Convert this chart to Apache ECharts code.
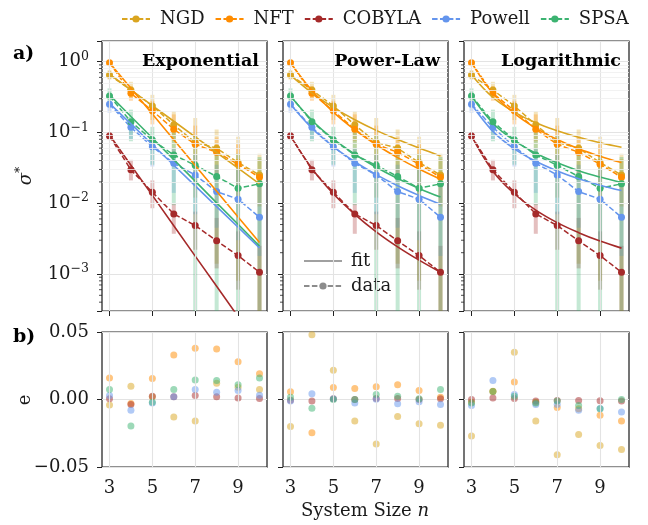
<!DOCTYPE html>
<html>
<head>
<meta charset="utf-8">
<script src="https://cdn.jsdelivr.net/npm/echarts@6/dist/echarts.min.js"></script>
<style>
  html, body { margin: 0; padding: 0; background: #fff; }
  #chart { width: 648px; height: 525px; }
</style>
</head>
<body>
<div id="chart"></div>
<script>
// system sizes
var sizes = [3, 4, 5, 6, 7, 8, 9, 10];
var methods = ['NGD', 'NFT', 'COBYLA', 'Powell', 'SPSA'];
var colors = ['#DAA520', '#FF8C00', '#A52A2A', '#6495ED', '#3CB371'];
var models = ['Exponential', 'Power-Law', 'Logarithmic'];
var xTicks = [3, 5, 7, 9];

// measured sigma* (same in every panel)
var sigmaNGD    = [0.648, 0.398, 0.237, 0.128, 0.072, 0.060, 0.0375, 0.025];
var sigmaNFT    = [0.968, 0.357, 0.203, 0.111, 0.068, 0.0525, 0.0356, 0.0233];
var sigmaCOBYLA = [0.0893, 0.0296, 0.0143, 0.00707, 0.00484, 0.00294, 0.00182, 0.00106];
var sigmaPowell = [0.250, 0.118, 0.063, 0.0367, 0.025, 0.0146, 0.0114, 0.00634];
var sigmaSPSA   = [0.327, 0.142, 0.078, 0.048, 0.0344, 0.0238, 0.0163, 0.0188];

// error bar ranges
var lowNGD     = [0.56, 0.30, 0.15, 0.05, 0.012, 0.0014, 0.0008, 0.0003];
var highNGD    = [0.76, 0.52, 0.34, 0.20, 0.16, 0.11, 0.087, 0.05];
var lowNFT     = [0.88, 0.28, 0.13, 0.075, 0.035, 0.025, 0.012, 0.009];
var highNFT    = [1.02, 0.45, 0.28, 0.18, 0.125, 0.085, 0.068, 0.042];
var lowCOBYLA  = [0.078, 0.021, 0.0085, 0.0037, 0.0022, 0.0012, 0.0006, 0.0003];
var highCOBYLA = [0.10, 0.041, 0.021, 0.010, 0.0076, 0.0062, 0.004, 0.0025];
var lowPowell  = [0.19, 0.08, 0.033, 0.014, 0.007, 0.0045, 0.003, 0.0018];
var highPowell = [0.28, 0.15, 0.09, 0.06, 0.048, 0.035, 0.03, 0.02];
var lowSPSA    = [0.25, 0.075, 0.035, 0.0094, 0.0003, 0.0003, 0.0003, 0.0003];
var highSPSA   = [0.42, 0.21, 0.12, 0.10, 0.09, 0.065, 0.05, 0.045];

// fitted curves
var expNGD    = [0.664, 0.399, 0.240, 0.144, 0.0867, 0.0521, 0.0313, 0.0188];
var expNFT    = [0.968, 0.420, 0.182, 0.0789, 0.0342, 0.0148, 0.00641, 0.00278];
var expCOBYLA = [0.0923, 0.0344, 0.0129, 0.00481, 0.00179, 0.00067, 0.00025, 0.0000935];
var expPowell = [0.258, 0.132, 0.0675, 0.0344, 0.0176, 0.00897, 0.00459, 0.00234];
var expSPSA   = [0.339, 0.168, 0.0834, 0.0413, 0.0205, 0.0101, 0.00504, 0.00249];

var powNGD    = [0.646, 0.363, 0.226, 0.151, 0.107, 0.0794, 0.0603, 0.0466];
var powNFT    = [0.968, 0.392, 0.194, 0.109, 0.0671, 0.0441, 0.0304, 0.0218];
var powCOBYLA = [0.0893, 0.0310, 0.0136, 0.00697, 0.00395, 0.00242, 0.00157, 0.00106];
var powPowell = [0.250, 0.115, 0.0630, 0.0385, 0.0254, 0.0177, 0.0129, 0.00968];
var powSPSA   = [0.327, 0.149, 0.0809, 0.0492, 0.0323, 0.0224, 0.0162, 0.0122];

var logNGD    = [0.655, 0.312, 0.194, 0.137, 0.106, 0.0855, 0.0716, 0.0618];
var logNFT    = [0.968, 0.355, 0.186, 0.115, 0.0794, 0.0589, 0.0462, 0.0375];
var logCOBYLA = [0.0893, 0.0283, 0.0136, 0.0080, 0.00532, 0.00384, 0.00292, 0.00232];
var logPowell = [0.250, 0.1035, 0.0587, 0.0391, 0.0286, 0.0222, 0.0180, 0.0151];
var logSPSA   = [0.327, 0.135, 0.0766, 0.0508, 0.0372, 0.0288, 0.0234, 0.0196];

// residuals e
var resExpNGD    = [-0.004, 0.0098, 0.002, -0.013, -0.016, 0.012, 0.009, 0.0074];
var resExpNFT    = [0.016, -0.003, 0.0155, 0.033, 0.038, 0.0375, 0.028, 0.019];
var resExpCOBYLA = [0.0005, -0.0037, 0.0025, 0.002, 0.003, 0.002, 0.0012, 0.0007];
var resExpPowell = [0.003, -0.008, -0.0025, 0.002, 0.0074, 0.0054, 0.0066, 0.0032];
var resExpSPSA   = [0.0074, -0.0197, -0.002, 0.0074, 0.0145, 0.014, 0.011, 0.016];

var resPowNGD    = [-0.020, 0.048, 0.0217, -0.016, -0.033, -0.0126, -0.018, -0.019];
var resPowNFT    = [0.0057, -0.0246, 0.0089, 0.0081, 0.0094, 0.011, 0.0066, 0.0017];
var resPowCOBYLA = [-0.0005, -0.0012, 0.0005, 0, 0.0007, 0.0007, 0, 0.0005];
var resPowPowell = [-0.0012, 0.0042, 0.0005, -0.0025, 0.0002, -0.0032, -0.0017, -0.0037];
var resPowSPSA   = [0.0017, -0.0064, 0, 0, 0.0037, 0.0025, 0.0005, 0.0074];

var resLogNGD    = [-0.027, 0.0062, 0.035, -0.016, -0.041, -0.026, -0.034, -0.037];
var resLogNFT    = [-0.002, 0.006, 0.013, -0.002, -0.006, -0.0069, -0.0116, -0.016];
var resLogCOBYLA = [0, 0.0012, 0.0007, -0.0012, -0.0007, -0.0007, -0.001, -0.0012];
var resLogPowell = [-0.0044, 0.014, 0.0037, -0.0037, -0.0037, -0.008, -0.0066, -0.0093];
var resLogSPSA   = [-0.0025, 0.006, 0.0025, -0.0025, -0.0012, -0.0044, -0.0069, 0];

var yTickMinor = [0.0004, 0.0005, 0.0006, 0.0007, 0.0008, 0.0009,
  0.002, 0.003, 0.004, 0.005, 0.006, 0.007, 0.008, 0.009,
  0.02, 0.03, 0.04, 0.05, 0.06, 0.07, 0.08, 0.09,
  0.2, 0.3, 0.4, 0.5, 0.6, 0.7, 0.8, 0.9];

var sigma = [sigmaNGD, sigmaNFT, sigmaCOBYLA, sigmaPowell, sigmaSPSA];
var lows = [lowNGD, lowNFT, lowCOBYLA, lowPowell, lowSPSA];
var highs = [highNGD, highNFT, highCOBYLA, highPowell, highSPSA];
var fits = [
  [expNGD, expNFT, expCOBYLA, expPowell, expSPSA],
  [powNGD, powNFT, powCOBYLA, powPowell, powSPSA],
  [logNGD, logNFT, logCOBYLA, logPowell, logSPSA]
];
var resids = [
  [resExpNGD, resExpNFT, resExpCOBYLA, resExpPowell, resExpSPSA],
  [resPowNGD, resPowNFT, resPowCOBYLA, resPowPowell, resPowSPSA],
  [resLogNGD, resLogNFT, resLogCOBYLA, resLogPowell, resLogSPSA]
];

var SERIF = '"DejaVu Serif", serif';
var INK = '#1a1a1a';
var FS = 18;
var X_MIN = 2.65, X_MAX = 10.35, Y_MIN = 3e-4, Y_MAX = 1.96;
var lefts = [102, 283, 464], W = 165;

function pairs(ys) {
  return sizes.map(function (n, i) { return [n, ys[i]]; });
}

var myChart = echarts.init(document.getElementById('chart'), null, { renderer: 'canvas' });

var grids = [], xAxes = [], yAxes = [], series = [];

for (var row = 0; row < 2; row++) {
  for (var p = 0; p < 3; p++) {
    var gi = row * 3 + p;
    grids.push({
      left: lefts[p], width: W,
      top: row === 0 ? 41 : 332,
      height: row === 0 ? 270 : 135,
      show: true, borderColor: '#222', borderWidth: 1.25, backgroundColor: 'transparent',
      containLabel: false, outerBoundsMode: 'none'
    });
    xAxes.push({
      type: 'value', gridIndex: gi, min: X_MIN, max: X_MAX,
      axisLine: { show: false }, splitLine: { show: false },
      axisTick: { show: true, length: 5, lineStyle: { color: '#222' }, customValues: xTicks },
      axisLabel: {
        show: row === 1, customValues: xTicks, margin: 12,
        fontFamily: SERIF, fontSize: FS, color: INK
      }
    });
    if (row === 0) {
      yAxes.push({
        type: 'log', logBase: 10, gridIndex: gi, min: Y_MIN, max: Y_MAX,
        axisLine: { show: false },
        axisTick: { show: true, length: 5, lineStyle: { color: '#222' } },
        splitLine: { show: true, lineStyle: { color: '#e3e3e3', width: 1.1 } },
        axisLabel: {
          show: p === 0, margin: 13, fontFamily: SERIF, fontSize: FS, color: INK,
          formatter: function (v) {
            var l = Math.log10(v), k = Math.round(l);
            if (Math.abs(l - k) > 1e-6) return '';
            return '10{sup|' + (k < 0 ? '\u2212' + (-k) : k) + '}';
          },
          rich: { sup: { fontSize: 12.5, fontFamily: SERIF, color: INK, padding: [0, 0, 10, 0] } }
        }
      });
    } else {
      yAxes.push({
        type: 'value', gridIndex: gi, min: -0.05, max: 0.05, interval: 0.05,
        axisLine: { show: false },
        axisTick: { show: true, length: 5, lineStyle: { color: '#222' } },
        splitLine: { show: true, lineStyle: { color: '#e3e3e3', width: 1.1 } },
        axisLabel: {
          show: p === 0, margin: 13, fontFamily: SERIF, fontSize: FS, color: INK,
          formatter: function (v) {
            if (Math.abs(v) < 1e-9) return '0.00';
            return (v < 0 ? '\u2212' : '') + Math.abs(v).toFixed(2);
          }
        }
      });
    }

    // grid lines (vertical majors, horizontal minors on log panels)
    var ml = xTicks.map(function (v) {
      return { xAxis: v, lineStyle: { color: '#e3e3e3', width: 1.1, type: 'solid' } };
    });
    if (row === 0) {
      yTickMinor.forEach(function (v) {
        ml.push({ yAxis: v, lineStyle: { color: '#efefef', width: 0.8, type: 'solid' } });
      });
    }
    series.push({
      type: 'line', name: 'grid' + gi, xAxisIndex: gi, yAxisIndex: gi,
      data: [], symbol: 'none', silent: true, z: 0,
      markLine: { silent: true, symbol: 'none', label: { show: false }, animation: false, data: ml }
    });
  }
}

// top row: minor ticks, error bars, data, fits
for (var p = 0; p < 3; p++) {
  series.push({
    type: 'custom', name: 'minor' + p, xAxisIndex: p, yAxisIndex: p, silent: true, clip: false,
    data: yTickMinor.map(function (v) { return [X_MIN, v]; }),
    renderItem: function (params, api) {
      var c = api.coord([api.value(0), api.value(1)]);
      return { type: 'line', shape: { x1: c[0] - 3, y1: c[1], x2: c[0], y2: c[1] },
        style: { stroke: '#222', lineWidth: 0.8 } };
    }
  });
  methods.forEach(function (m, mi) {
    series.push({
      type: 'custom', name: m + ' err', xAxisIndex: p, yAxisIndex: p, silent: true, z: 2,
      data: sizes.map(function (n, i) { return [n, lows[mi][i], highs[mi][i]]; }),
      encode: { x: 0, y: [1, 2] },
      renderItem: function (params, api) {
        var a = api.coord([api.value(0), Math.max(api.value(1), Y_MIN)]);
        var b = api.coord([api.value(0), Math.min(api.value(2), Y_MAX)]);
        return { type: 'line', shape: { x1: a[0], y1: a[1], x2: b[0], y2: b[1] },
          style: { stroke: colors[mi], lineWidth: 4, opacity: 0.3 } };
      }
    });
  });
  methods.forEach(function (m, mi) {
    series.push({
      type: 'line', name: m, xAxisIndex: p, yAxisIndex: p, z: 3,
      data: pairs(sigma[mi]), symbol: 'circle', symbolSize: 7, showSymbol: true,
      lineStyle: { color: colors[mi], width: 1.5, type: [5.5, 2.4] },
      itemStyle: { color: colors[mi] }
    });
  });
  methods.forEach(function (m, mi) {
    series.push({
      type: 'line', name: m + ' fit', xAxisIndex: p, yAxisIndex: p, z: 4,
      data: pairs(fits[p][mi]), symbol: 'none', smooth: p === 0 ? false : 0.4,
      lineStyle: { color: colors[mi], width: 1.6 }, itemStyle: { color: colors[mi] }
    });
  });
}

// bottom row: residuals
for (var p = 0; p < 3; p++) {
  methods.forEach(function (m, mi) {
    series.push({
      type: 'scatter', name: m, xAxisIndex: 3 + p, yAxisIndex: 3 + p, z: 3,
      data: pairs(resids[p][mi]), symbolSize: 7,
      itemStyle: { color: colors[mi], opacity: 0.5 }
    });
  });
}

// proxies for the fit / data key
series.push({
  type: 'line', name: 'fit', xAxisIndex: 1, yAxisIndex: 1, data: [], symbol: 'none',
  lineStyle: { color: '#808080', width: 1.6 }, itemStyle: { color: '#808080' }
});
series.push({
  type: 'line', name: 'data', xAxisIndex: 1, yAxisIndex: 1, data: [], symbol: 'circle',
  lineStyle: { color: '#8c8c8c', width: 1.5, type: [5.5, 2.4] }, itemStyle: { color: '#8c8c8c' }
});

var titles = models.map(function (t, p) {
  return {
    type: 'text', x: lefts[p] + W - 8, y: 61, z: 100,
    style: { text: t, font: 'bold 17.5px ' + SERIF, fill: '#000', align: 'right', verticalAlign: 'middle' }
  };
});

option = {
  animation: false,
  backgroundColor: '#fff',
  grid: grids,
  xAxis: xAxes,
  yAxis: yAxes,
  legend: [{
    data: methods, left: 116, top: 5, itemWidth: 28, itemHeight: 9, itemGap: 10,
    textStyle: { fontFamily: SERIF, fontSize: FS, color: INK, padding: [0, 0, 0, 5] },
    selectedMode: false
  }, {
    data: [{ name: 'fit', icon: 'path://M0,0h38v1.6h-38z' }, 'data'],
    orient: 'vertical', left: 298, top: 247, itemWidth: 38, itemHeight: 9, itemGap: 7,
    textStyle: { fontFamily: SERIF, fontSize: FS, color: INK, padding: [0, 0, 0, 4] },
    selectedMode: false
  }],
  graphic: titles.concat([
    { type: 'text', x: 13, y: 45, z: 100, style: { text: 'a)', font: 'bold 19px ' + SERIF, fill: '#000' } },
    { type: 'text', x: 13, y: 328, z: 100, style: { text: 'b)', font: 'bold 19px ' + SERIF, fill: '#000' } },
    { type: 'text', x: 26, y: 176, rotation: Math.PI / 2, z: 100,
      style: { text: '\u03c3{s|*}', font: 'italic ' + FS + 'px ' + SERIF, fill: INK, align: 'center', verticalAlign: 'middle',
        rich: { s: { fontSize: 12.5, fontFamily: SERIF, fill: INK, padding: [0, 0, 10, 0] } } } },
    { type: 'text', x: 25, y: 400, rotation: Math.PI / 2, z: 100,
      style: { text: 'e', font: FS + 'px ' + SERIF, fill: INK, align: 'center', verticalAlign: 'middle' } },
    { type: 'text', x: 365, y: 511, z: 100,
      style: { text: 'System Size {i|n}', font: FS + 'px ' + SERIF, fill: INK, align: 'center', verticalAlign: 'middle',
        rich: { i: { fontStyle: 'italic', fontSize: FS, fontFamily: SERIF, fill: INK } } } }
  ]),
  series: series
};

myChart.setOption(option, true);
</script>
</body>
</html>
